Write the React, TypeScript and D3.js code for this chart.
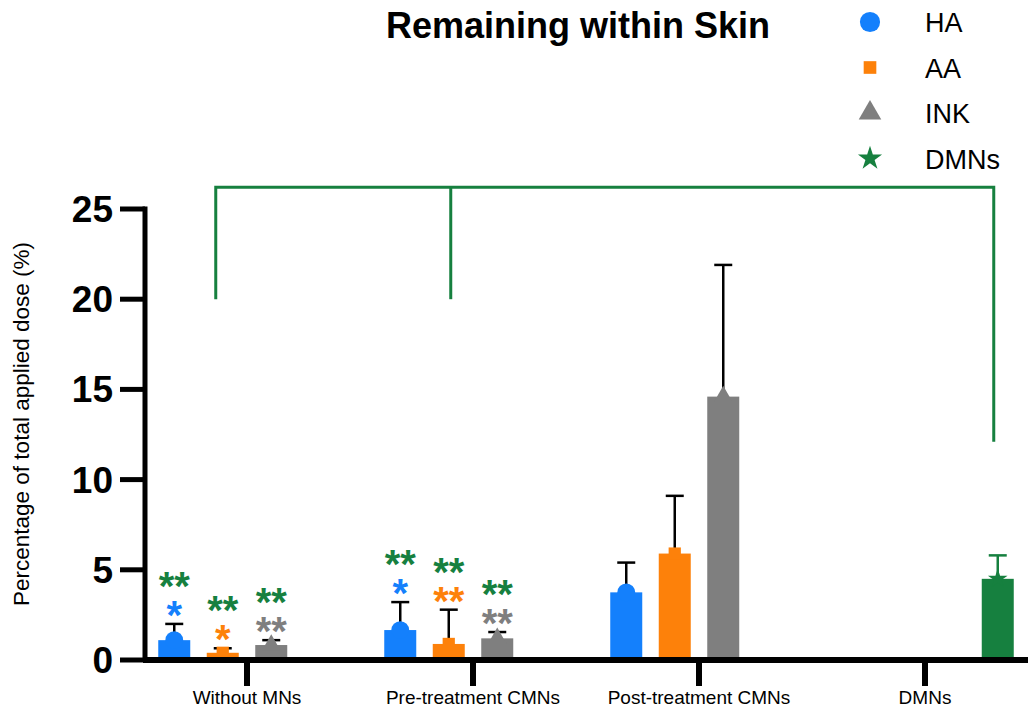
import React from 'react';
import * as d3 from 'd3';

const categories = ['Without MNs', 'Pre-treatment CMNs', 'Post-treatment CMNs', 'DMNs'];
const seriesNames = ['HA', 'AA', 'INK', 'DMNs'];
const colors = ['#1480fc', '#fd810a', '#7f7f7f', '#16803f'];

// mean and SD per category (null = not measured)
const haMean = [1.1, 1.66, 3.75, null];
const haSd = [0.9, 1.55, 1.65, null];
const aaMean = [0.4, 0.89, 5.9, null];
const aaSd = [0.25, 1.9, 3.2, null];
const inkMean = [0.83, 1.2, 14.6, null];
const inkSd = [0.27, 0.35, 7.3, null];
const dmnMean = [null, null, null, 4.5];
const dmnSd = [null, null, null, 1.3];

// significance: vs own group control, vs DMNs
const haSig = ['*', '*', '', ''];
const aaSig = ['*', '**', '', ''];
const inkSig = ['**', '**', '', ''];
const vsDmnSig = ['**', '**', '', ''];

const yTicks = [0, 5, 10, 15, 20, 25];

const means = [haMean, aaMean, inkMean, dmnMean];
const sds = [haSd, aaSd, inkSd, dmnSd];
const sigs = [haSig, aaSig, inkSig];

const symbols = [d3.symbolCircle, d3.symbolSquare, d3.symbolTriangle, d3.symbolStar];
const symbolSizes = [250, 150, 150, 120];

export default function App() {
  const width = 1028;
  const height = 711;
  const font = 'Liberation Sans, Arial, sans-serif';

  const y = d3.scaleLinear().domain([0, 25]).range([660, 209]);
  const x0 = d3.scaleBand().domain(categories).range([134, 1038]);
  const x1 = d3.scaleBand().domain(seriesNames).range([16, 210]);
  const barW = 32;

  const cx = (ci: number, si: number) =>
    (x0(categories[ci]) as number) + (x1(seriesNames[si]) as number) + x1.bandwidth() / 2;

  const bars: any[] = [];
  means.forEach((arr, si) => {
    arr.forEach((m, ci) => {
      if (m == null) return;
      bars.push({ si, ci, m, sd: sds[si][ci] as number });
    });
  });

  // bracket from DMNs to groups
  const bracketY = y(26.2);
  const bx0 = cx(0, 1) - 7;
  const bx1 = cx(1, 1) + 2;
  const bx2 = cx(3, 3) - 4;

  return (
    <svg width={width} height={height} style={{ position: 'absolute', left: 0, top: 0 }} fontFamily={font}>
      <rect width={width} height={height} fill="#fff" />
      <text x={578} y={38} textAnchor="middle" fontSize={36} fontWeight="bold">
        Remaining within Skin
      </text>

      {/* legend */}
      {seriesNames.map((s, i) => (
        <g key={s} transform={`translate(0, ${22 + i * 45.5})`}>
          <path
            transform="translate(870, 0)"
            d={d3.symbol().type(symbols[i]).size([320, 160, 220, 180][i])() as string}
            fill={colors[i]}
          />
          <text x={925} y={10} fontSize={27}>
            {s}
          </text>
        </g>
      ))}

      {/* bracket */}
      <g stroke={colors[3]} strokeWidth={3} fill="none">
        <path d={`M${bx0},${y(20)}V${bracketY}H${bx2}V${y(12.1)}`} />
        <path d={`M${bx1},${bracketY}V${y(20)}`} />
      </g>

      {/* bars */}
      {bars.map((b) => {
        const c = cx(b.ci, b.si);
        const top = y(b.m);
        const et = y(b.m + b.sd);
        const errColor = b.si === 3 ? colors[3] : '#000';
        return (
          <g key={`${b.si}-${b.ci}`}>
            <rect x={c - barW / 2} y={top} width={barW} height={y(0) - top} fill={colors[b.si]} />
            <line x1={c} x2={c} y1={top} y2={et} stroke={errColor} strokeWidth={2.5} />
            <line x1={c - 9} x2={c + 9} y1={et} y2={et} stroke={errColor} strokeWidth={2.5} />
            <path
              transform={`translate(${c}, ${top})`}
              d={d3.symbol().type(symbols[b.si]).size(symbolSizes[b.si])() as string}
              fill={colors[b.si]}
            />
          </g>
        );
      })}

      {/* significance stars */}
      {sigs.map((arr, si) =>
        arr.map((s, ci) => {
          if (!s) return null;
          const c = cx(ci, si);
          const et = y((means[si][ci] as number) + (sds[si][ci] as number));
          const c1 = et - 18;
          const c2 = c1 - 29;
          return (
            <g key={`s${si}-${ci}`} fontSize={40} fontWeight="bold" textAnchor="middle">
              <text x={c} y={c1 + 23} fill={colors[si]}>
                {s}
              </text>
              <text x={c} y={c2 + 23} fill={colors[3]}>
                {vsDmnSig[ci]}
              </text>
            </g>
          );
        })
      )}

      {/* y axis */}
      <line x1={145} x2={145} y1={y(25) - 2.5} y2={y(0)} stroke="#000" strokeWidth={5} />
      {yTicks.map((t) => (
        <g key={t}>
          <line x1={120} x2={145} y1={y(t)} y2={y(t)} stroke="#000" strokeWidth={5} />
          <text x={113} y={y(t) + 13} textAnchor="end" fontSize={37} fontWeight="bold">
            {t}
          </text>
        </g>
      ))}
      <text
        transform={`translate(29, 424) rotate(-90)`}
        textAnchor="middle"
        fontSize={22.5}
      >
        Percentage of total applied dose (%)
      </text>

      {/* x axis */}
      <line x1={143} x2={width} y1={y(0)} y2={y(0)} stroke="#000" strokeWidth={6} />
      {categories.map((c) => {
        const gx = (x0(c) as number) + x0.bandwidth() / 2;
        return (
          <g key={c}>
            <line x1={gx} x2={gx} y1={y(0)} y2={y(0) + 26} stroke="#000" strokeWidth={6} />
            <text x={gx} y={704} textAnchor="middle" fontSize={19}>
              {c}
            </text>
          </g>
        );
      })}
    </svg>
  );
}
